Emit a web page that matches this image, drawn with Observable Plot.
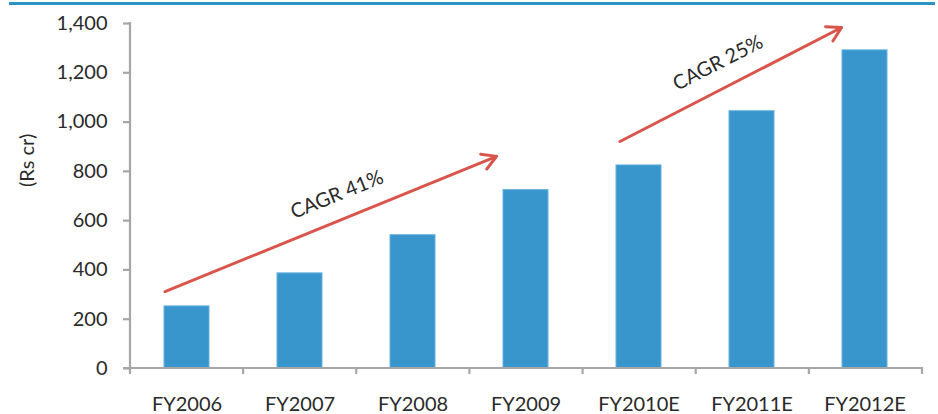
<!DOCTYPE html>
<html>
<head>
<meta charset="utf-8">
<script src="https://cdn.jsdelivr.net/npm/d3@7"></script>
<script src="https://cdn.jsdelivr.net/npm/@observablehq/plot@0.6"></script>
<style>
  body { margin: 0; background: #fff; }
  #wrap { position: relative; width: 938px; height: 414px; }
  #wrap svg { display: block; }
  #topRule { position: absolute; left: 9px; top: 2px; width: 926px; height: 3px; background: #2a92c4; }
</style>
</head>
<body>
<div id="wrap"><div id="topRule"></div></div>
<script>
// Revenue by fiscal year (Rs cr)
const years = ["FY2006", "FY2007", "FY2008", "FY2009", "FY2010E", "FY2011E", "FY2012E"];
const revenue = [252, 386, 541, 724, 824, 1044, 1291];
const yTicks = [0, 200, 400, 600, 800, 1000, 1200, 1400];
const yTitle = "(Rs cr)";

// Growth annotations: arrow from/to (year, value) and the CAGR label
const cagrText = ["CAGR 41%", "CAGR 25%"];
const arrowFromYear = ["FY2006", "FY2010E"];
const arrowFromValue = [312, 921];
const arrowToYear = ["FY2009", "FY2012E"];
const arrowToValue = [873, 1393];
const labelYear = ["FY2007", "FY2011E"];
const labelValue = [705, 1240];

const data = years.map((year, i) => ({year, value: revenue[i]}));
const arrows = cagrText.map((text, i) => ({
  text,
  fromYear: arrowFromYear[i], fromValue: arrowFromValue[i],
  toYear: arrowToYear[i], toValue: arrowToValue[i],
  labelYear: labelYear[i], labelValue: labelValue[i]
}));

const font = "Lato, 'Open Sans', sans-serif";
const weight = 400;
const barBlue = "#3996cc";
const axisGray = "#a6a6a6";
const arrowRed = "#d9554c";
const textColor = "#2a2a2a";

// Axis lines with category boundary ticks (Excel-style)
function axisLines(index, scales, values, dims) {
  const {width, marginLeft, marginRight} = dims;
  const y0 = scales.y(0);
  const yTop = scales.y(yTicks[yTicks.length - 1]);
  const n = years.length;
  const step = (width - marginLeft - marginRight) / n;
  const g = d3.create("svg:g")
    .attr("stroke", axisGray)
    .attr("stroke-width", 2.2)
    .attr("fill", "none");
  g.append("line")
    .attr("x1", marginLeft).attr("x2", marginLeft)
    .attr("y1", yTop - 1).attr("y2", y0 + 6);
  g.append("line")
    .attr("x1", marginLeft - 7).attr("x2", width - marginRight + 1)
    .attr("y1", y0).attr("y2", y0);
  for (let i = 1; i <= n; ++i) {
    const x = marginLeft + i * step;
    g.append("line").attr("x1", x).attr("x2", x).attr("y1", y0).attr("y2", y0 + 6);
  }
  return g.node();
}

const chart = Plot.plot({
  width: 938,
  height: 414,
  marginLeft: 130,
  marginRight: 16,
  marginTop: 23,
  marginBottom: 46,
  style: {fontFamily: font, color: textColor, background: "transparent"},
  x: {domain: years, paddingInner: 0.6, paddingOuter: 0.3, axis: null},
  y: {domain: [0, 1400], axis: null},
  marks: [
    Plot.barY(data, {x: "year", y: "value", fill: barBlue, stroke: "#66b1df", strokeWidth: 1}),
    axisLines,
    Plot.axisY(yTicks, {
      tickSize: 7, tickPadding: 16, tickFormat: d3.format(","),
      stroke: axisGray, strokeWidth: 2.2, fill: textColor, fontSize: 20, fontWeight: weight, label: null
    }),
    Plot.axisX(years, {
      tickSize: 0, tickPadding: 28, fill: textColor, fontSize: 20, fontWeight: weight, label: null
    }),
    Plot.text([yTitle], {
      frameAnchor: "left", dx: -103, dy: -9, rotate: -90,
      fontSize: 20, fontWeight: weight, fill: textColor
    }),
    Plot.arrow(arrows.slice(0, 1), {
      x1: "fromYear", y1: "fromValue", x2: "toYear", y2: "toValue",
      dx: -22, insetEnd: 8, stroke: arrowRed, strokeWidth: 3, headLength: 8
    }),
    Plot.arrow(arrows.slice(1, 2), {
      x1: "fromYear", y1: "fromValue", x2: "toYear", y2: "toValue",
      dx: -19, insetEnd: 5, stroke: arrowRed, strokeWidth: 3, headLength: 8
    }),
    Plot.text(arrows.slice(0, 1), {
      x: "labelYear", y: "labelValue", text: "text", dx: 37,
      rotate: -22, fontSize: 20, fontWeight: weight, fill: textColor
    }),
    Plot.text(arrows.slice(1, 2), {
      x: "labelYear", y: "labelValue", text: "text", dx: -34,
      rotate: -27, fontSize: 20, fontWeight: weight, fill: textColor
    })
  ]
});

document.getElementById("wrap").prepend(chart);
</script>
</body>
</html>
